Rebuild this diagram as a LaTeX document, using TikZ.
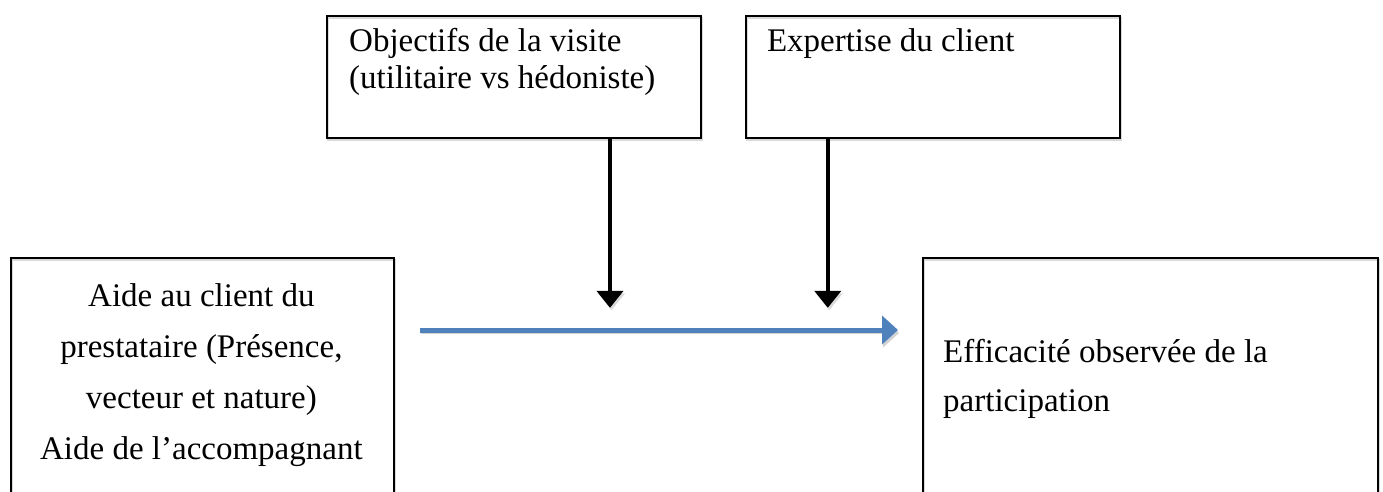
\documentclass[tikz,border=0pt]{standalone}
\usepackage{fontspec}
\setmainfont{Liberation Serif}
\usepackage{tikz}
\usetikzlibrary{arrows.meta, positioning}
\definecolor{arrowblue}{HTML}{4F81BD}
\tikzstyle{box} = [rectangle, draw=black, line width=1.8pt, anchor=north west, inner sep=0pt, preaction={draw=black!15, line width=2pt, transform canvas={shift={(1.5pt,-2.5pt)}}}]
\tikzstyle{boxtext} = [inner sep=0pt, align=left, anchor=base west]
\tikzstyle{arrow} = [line width=4.5pt, -{Triangle[width=26pt,length=17pt]}, preaction={draw=black!15, transform canvas={shift={(1.5pt,-2.5pt)}}}]
\tikzstyle{bluearrow} = [line width=5pt, draw=arrowblue, -{Triangle[width=28pt,length=16pt]}, preaction={draw=black!18, transform canvas={shift={(1pt,-3pt)}}}]
\tikzset{
  font={\fontsize{33pt}{37pt}\selectfont}}

\begin{document}
\begin{tikzpicture}[x=1pt, y=-1pt]
    \useasboundingbox (0,0) rectangle (1383,492);
    \clip (0,0) rectangle (1383,492);

    \node (objectifs) [box, minimum width=374pt, minimum height=122pt] at (326,15) {};
    \node (expertise) [box, minimum width=374pt, minimum height=122pt, right=43pt of objectifs.north east, anchor=north west] {};
    \node (aide) [box, minimum width=383pt, minimum height=300pt] at (10,257) {};
    \node (efficacite) [box, minimum width=455pt, minimum height=300pt] at (922,257) {};

    % base anchor = baseline of the last line
    \node (objtxt) [boxtext] at ([xshift=23pt, yshift=-74pt]objectifs.north west) {Objectifs de la visite\\(utilitaire vs hédoniste)};
    \node (exptxt) [boxtext] at ([xshift=22pt, yshift=-37pt]expertise.north west) {Expertise du client};
    \node (aidetxt) [boxtext, align=center, anchor=base, font={\fontsize{33pt}{51pt}\selectfont}] at ([xshift=-1pt, yshift=-202pt]aide.north) {Aide au client du\\prestataire (Présence,\\vecteur et nature)\\Aide de l’accompagnant};
    \node (efftxt) [boxtext, font={\fontsize{33pt}{49pt}\selectfont}] at ([xshift=21pt, yshift=-154pt]efficacite.north west) {Efficacité observée de la\\participation};

    \coordinate[right=25pt of aide.north east, yshift=-73pt] (start);
    \coordinate[left=24pt of efficacite.north west, yshift=-73pt] (end);
    \coordinate[below=0pt of objectifs.south west, xshift=284pt] (c1);
    \coordinate[below=169pt of c1] (t1);
    \coordinate[below=0pt of expertise.south west, xshift=83pt] (c2);
    \coordinate[below=169pt of c2] (t2);

    \draw [bluearrow] (start) -- (end);
    \draw [arrow] (c1) -- (t1);
    \draw [arrow] (c2) -- (t2);
\end{tikzpicture}
\end{document}
